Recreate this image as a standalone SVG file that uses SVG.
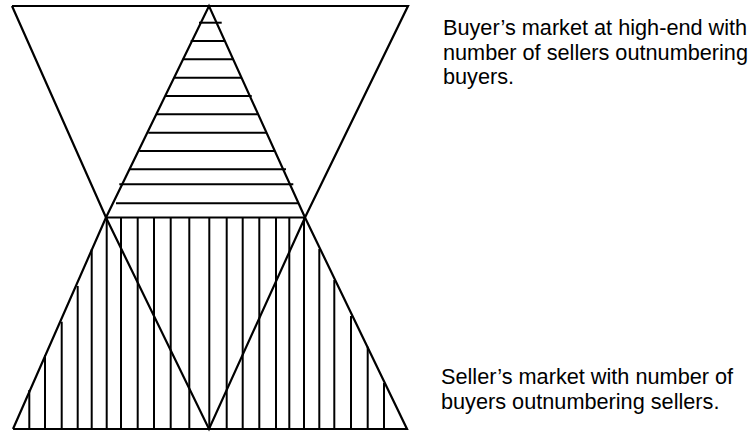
<svg xmlns="http://www.w3.org/2000/svg" width="752" height="434" viewBox="0 0 752 434">
<style>
.e{stroke:#000;stroke-width:2.2;fill:none;stroke-linecap:butt}
.h{stroke:#000;stroke-width:2}
.t{font-family:"Liberation Sans",Arial,sans-serif;font-size:21.7px;fill:#000}
</style>
<rect width="752" height="434" fill="#fff"/>
<g id="upper-hatch">
<line class="h" x1="199" y1="22.7" x2="221.7" y2="22.7"/>
<line class="h" x1="190.7" y1="41" x2="225" y2="41"/>
<line class="h" x1="182.7" y1="59.3" x2="233.3" y2="59.3"/>
<line class="h" x1="174.3" y1="77.7" x2="241.7" y2="77.7"/>
<line class="h" x1="165.7" y1="96" x2="251.7" y2="96"/>
<line class="h" x1="156.7" y1="114.3" x2="257.7" y2="114.3"/>
<line class="h" x1="148.3" y1="132.7" x2="266" y2="132.7"/>
<line class="h" x1="139.3" y1="151" x2="274.3" y2="151"/>
<line class="h" x1="130" y1="169.3" x2="286" y2="169.3"/>
<line class="h" x1="119.3" y1="184.3" x2="293.3" y2="184.3"/>
<line class="h" x1="116" y1="203.3" x2="298.3" y2="203.3"/>
</g>
<g id="lower-hatch">
<line class="h" x1="29.3" y1="390" x2="29.3" y2="429"/>
<line class="h" x1="45" y1="355" x2="45" y2="429"/>
<line class="h" x1="61.7" y1="321.7" x2="61.7" y2="429"/>
<line class="h" x1="77.7" y1="286" x2="77.7" y2="429"/>
<line class="h" x1="91.7" y1="249.3" x2="91.7" y2="429"/>
<line class="h" x1="106.7" y1="218" x2="106.7" y2="429"/>
<line class="h" x1="121" y1="218" x2="121" y2="429"/>
<line class="h" x1="137.7" y1="218" x2="137.7" y2="429"/>
<line class="h" x1="154" y1="218" x2="154" y2="429"/>
<line class="h" x1="170.7" y1="218" x2="170.7" y2="429"/>
<line class="h" x1="189.3" y1="218" x2="189.3" y2="429"/>
<line class="h" x1="209.3" y1="218" x2="209.3" y2="429"/>
<line class="h" x1="226.7" y1="218" x2="226.7" y2="429"/>
<line class="h" x1="242.7" y1="218" x2="242.7" y2="429"/>
<line class="h" x1="259.3" y1="218" x2="259.3" y2="429"/>
<line class="h" x1="276" y1="218" x2="276" y2="429"/>
<line class="h" x1="289.3" y1="218" x2="289.3" y2="429"/>
<line class="h" x1="304" y1="218" x2="304" y2="429"/>
<line class="h" x1="319.3" y1="249" x2="319.3" y2="429"/>
<line class="h" x1="334.3" y1="280" x2="334.3" y2="429"/>
<line class="h" x1="351" y1="316" x2="351" y2="429"/>
<line class="h" x1="367.7" y1="346.7" x2="367.7" y2="429"/>
<line class="h" x1="384" y1="383" x2="384" y2="429"/>
</g>
<g id="outline">
<polyline class="e" points="12,6 408,6 305,217.5 209,429 106,217.5 12,6"/>
<polyline class="e" points="13,429 407,429 305,217.5 209,6 106,217.5 13,429"/>
<line class="e" x1="106" y1="217.5" x2="305" y2="217.5"/>
</g>
<g id="label-top">
<text class="t" x="443" y="35">Buyer’s market at high-end with</text>
<text class="t" x="443" y="59.5">number of sellers outnumbering</text>
<text class="t" x="443" y="84">buyers.</text>
</g>
<g id="label-bottom">
<text class="t" x="441" y="384">Seller’s market with number of</text>
<text class="t" x="441" y="408.5">buyers outnumbering sellers.</text>
</g>
</svg>
